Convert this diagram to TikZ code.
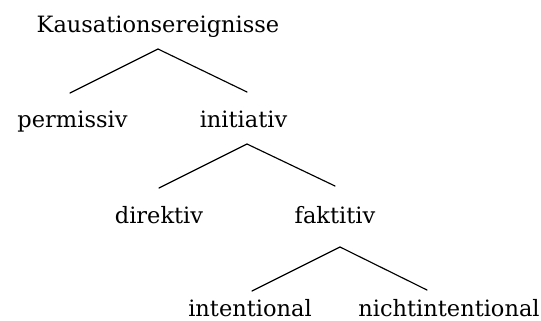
\documentclass[tikz,border=0pt]{standalone}
\usepackage{fontspec}
\setmainfont{DejaVu Serif}
\begin{document}
\begin{tikzpicture}[x=1pt,y=-1pt,
  lbl/.style={anchor=base,inner sep=0pt,font=\fontsize{22.5pt}{26pt}\selectfont},
  branch/.style={line width=1.15pt,line cap=round}]
\useasboundingbox (0,0) rectangle (541,321);
\node[lbl] (k) at (158,33) {Kausationsereignisse};
\node[lbl] (perm) at (72.5,128) {permissiv};
\node[lbl] (init) at (243.5,128) {initiativ};
\node[lbl] (dir) at (159,223) {direktiv};
\node[lbl] (fak) at (335,223) {faktitiv};
\node[lbl] (int) at (250,316) {intentional};
\node[lbl] (nint) at (449,316) {nichtintentional};
\coordinate (a1) at (158,49);
\coordinate (l1) at (70,93);
\coordinate (r1) at (247,92);
\coordinate (a2) at (247,144);
\coordinate (l2) at (159,188);
\coordinate (r2) at (335,186);
\coordinate (a3) at (340,247);
\coordinate (l3) at (252,291);
\coordinate (r3) at (427,290);
\draw[branch] (l1) -- (a1) -- (r1);
\draw[branch] (l2) -- (a2) -- (r2);
\draw[branch] (l3) -- (a3) -- (r3);
\end{tikzpicture}
\end{document}
